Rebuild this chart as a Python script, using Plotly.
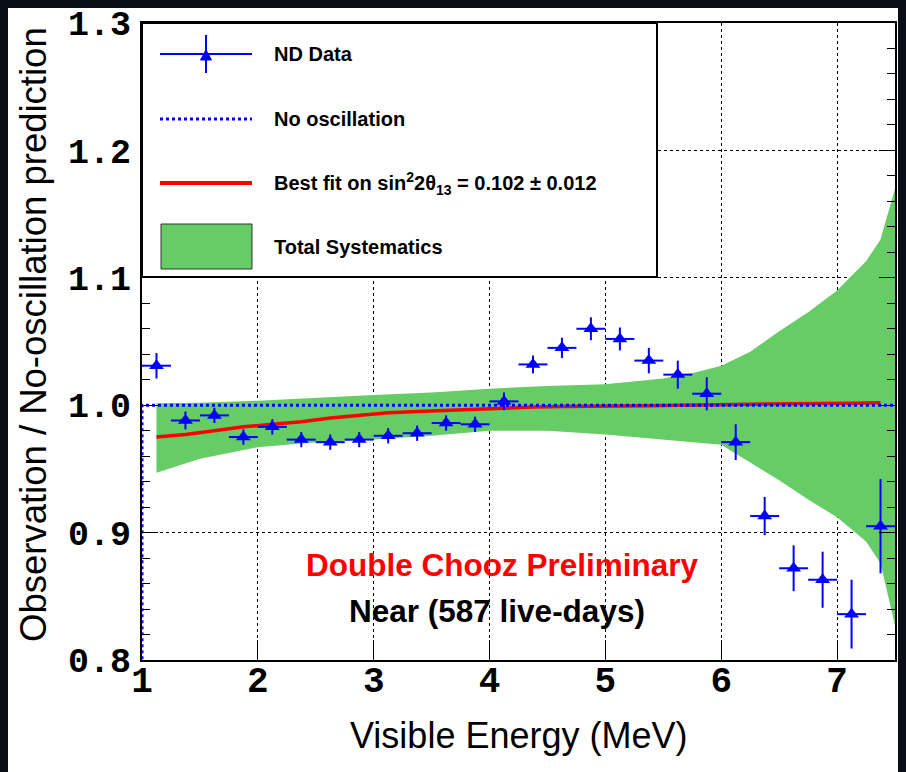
import plotly.graph_objects as go

# ---------------- data ----------------
energy = [1.125, 1.375, 1.625, 1.875, 2.125, 2.375, 2.625, 2.875, 3.125, 3.375,
          3.625, 3.875, 4.125, 4.375, 4.625, 4.875, 5.125, 5.375, 5.625, 5.875,
          6.125, 6.375, 6.625, 6.875, 7.125, 7.375]
ratio = [1.031, 0.988, 0.992, 0.975, 0.983, 0.973, 0.971, 0.973, 0.976, 0.978,
         0.986, 0.985, 1.003, 1.032, 1.045, 1.060, 1.052, 1.035, 1.024, 1.009,
         0.971, 0.913, 0.872, 0.863, 0.836, 0.905]
ratio_err = [0.010, 0.007, 0.006, 0.006, 0.006, 0.006, 0.006, 0.006, 0.006, 0.006,
             0.006, 0.006, 0.007, 0.007, 0.008, 0.009, 0.009, 0.010, 0.011, 0.013,
             0.014, 0.015, 0.018, 0.022, 0.027, 0.037]
bin_half_width = [0.125] * len(energy)

best_fit = [0.975, 0.977, 0.980, 0.983, 0.985, 0.987, 0.990, 0.992, 0.994, 0.995,
            0.996, 0.997, 0.998, 0.9985, 0.999, 0.999, 0.9995, 0.9995, 1.000, 1.000,
            1.0005, 1.001, 1.001, 1.001, 1.0015, 1.002]

syst_energy = [1.125, 1.5, 2.0, 2.5, 3.0, 3.5, 4.0, 4.5, 5.0, 5.5, 5.75, 6.0,
               6.25, 6.5, 6.75, 7.0, 7.25, 7.375, 7.5]
syst_upper = [1.0015, 1.002, 1.0035, 1.006, 1.008, 1.010, 1.013, 1.015, 1.0165, 1.021,
              1.025, 1.031, 1.042, 1.058, 1.073, 1.090, 1.113, 1.130, 1.170]
syst_lower = [0.947, 0.958, 0.967, 0.971, 0.973, 0.976, 0.980, 0.980, 0.977, 0.973,
              0.971, 0.969, 0.955, 0.941, 0.926, 0.912, 0.893, 0.876, 0.827]

noosc_energy = [1.0, 1.0, 7.5]
noosc_ratio = [0.0, 1.0, 1.0]

x_ticks = [1, 2, 3, 4, 5, 6, 7]
y_ticks = [0.8, 0.9, 1.0, 1.1, 1.2, 1.3]

# ---------------- layout geometry ----------------
# the page body has an 8 px margin, so the figure starts at (8, 8)
W, H = 898, 764
L, R, T, B = 134, 11, 15, 112
PW, PH = W - L - R, H - T - B
FRAME_LEFT_PAGE, FRAME_BOTTOM_PAGE = 142, 660

def px(x):  # page pixel -> paper
    return (x - FRAME_LEFT_PAGE) / PW

def py(y):  # page pixel -> paper
    return (FRAME_BOTTOM_PAGE - y) / PH

BLUE = "#0000ff"
RED = "#ff0000"
GREEN = "#66cc66"
TXT = "Liberation Sans, Arial, sans-serif"
MONO = "Liberation Mono, Courier New, monospace"

fig = go.Figure()

# systematics band
fig.add_trace(go.Scatter(x=syst_energy, y=syst_lower, mode="lines",
                         line=dict(width=0, color=GREEN), showlegend=False,
                         hoverinfo="skip"))
fig.add_trace(go.Scatter(x=syst_energy, y=syst_upper, mode="lines",
                         line=dict(width=0, color=GREEN), fill="tonexty",
                         fillcolor=GREEN, showlegend=False, hoverinfo="skip"))

# best fit
fig.add_trace(go.Scatter(x=energy, y=best_fit, mode="lines",
                         line=dict(color=RED, width=3.5), showlegend=False))

# no oscillation
fig.add_trace(go.Scatter(x=noosc_energy, y=noosc_ratio, mode="lines",
                         line=dict(color=BLUE, width=3, dash="dot"),
                         showlegend=False))

# data
fig.add_trace(go.Scatter(
    x=energy, y=ratio, mode="markers",
    marker=dict(symbol="triangle-up", size=13, color=BLUE),
    error_y=dict(type="data", array=ratio_err, color=BLUE, thickness=2, width=0),
    error_x=dict(type="data", array=bin_half_width, color=BLUE, thickness=2, width=0),
    showlegend=False))

shapes = []
# legend box
shapes.append(dict(type="rect", xref="paper", yref="paper",
                   x0=px(142), x1=px(657), y0=py(277), y1=py(23),
                   fillcolor="white", line=dict(color="black", width=2),
                   layer="above"))
# ND data symbol
shapes.append(dict(type="line", xref="paper", yref="paper",
                   x0=px(160), x1=px(252), y0=py(54), y1=py(54),
                   line=dict(color=BLUE, width=2), layer="above"))
shapes.append(dict(type="line", xref="paper", yref="paper",
                   x0=px(206), x1=px(206), y0=py(35), y1=py(73),
                   line=dict(color=BLUE, width=2), layer="above"))
tri = "M {:.5f} {:.5f} L {:.5f} {:.5f} L {:.5f} {:.5f} Z".format(
    px(206), py(50), px(200.5), py(60), px(211.5), py(60))
shapes.append(dict(type="path", xref="paper", yref="paper", path=tri,
                   fillcolor=BLUE, line=dict(color=BLUE, width=1), layer="above"))
# no oscillation symbol
shapes.append(dict(type="line", xref="paper", yref="paper",
                   x0=px(160), x1=px(252), y0=py(119), y1=py(119),
                   line=dict(color=BLUE, width=3, dash="dot"), layer="above"))
# best fit symbol
shapes.append(dict(type="line", xref="paper", yref="paper",
                   x0=px(160), x1=px(252), y0=py(183), y1=py(183),
                   line=dict(color=RED, width=4), layer="above"))
# systematics symbol
shapes.append(dict(type="rect", xref="paper", yref="paper",
                   x0=px(161), x1=px(252), y0=py(269), y1=py(224),
                   fillcolor=GREEN, line=dict(color="#333333", width=1),
                   layer="above"))

annotations = []
leg_font = dict(family=TXT, size=20, color="black", weight="bold")
for label, yy in [("ND Data", 54), ("No oscillation", 119),
                  ("Best fit on sin<sup>2</sup>2θ<sub>13</sub> = 0.102 ± 0.012", 183),
                  ("Total Systematics", 247)]:
    annotations.append(dict(xref="paper", yref="paper", x=px(272), y=py(yy),
                            text=label, showarrow=False, xanchor="left",
                            yanchor="middle", font=leg_font))

annotations.append(dict(xref="paper", yref="paper", x=px(502), y=py(565),
                        text="Double Chooz Preliminary", showarrow=False,
                        xanchor="center", yanchor="middle",
                        font=dict(family=TXT, size=31.5, color=RED, weight="bold")))
annotations.append(dict(xref="paper", yref="paper", x=px(497), y=py(611),
                        text="Near (587 live-days)", showarrow=False,
                        xanchor="center", yanchor="middle",
                        font=dict(family=TXT, size=31.5, color="black", weight="bold")))

# axis titles
annotations.append(dict(xref="paper", yref="paper", x=px(518), y=py(735),
                        text="Visible Energy (MeV)", showarrow=False,
                        xanchor="center", yanchor="middle",
                        font=dict(family=TXT, size=36, color="black")))
annotations.append(dict(xref="paper", yref="paper", x=px(33), y=py(335),
                        text="Observation / No-oscillation prediction",
                        showarrow=False, textangle=-90,
                        xanchor="center", yanchor="middle",
                        font=dict(family=TXT, size=36.5, color="black")))

fig.update_layout(
    width=W, height=H,
    margin=dict(l=L, r=R, t=T, b=B, pad=0, autoexpand=False),
    paper_bgcolor="white", plot_bgcolor="white",
    showlegend=False,
    shapes=shapes, annotations=annotations,
    xaxis=dict(range=[1, 7.5], tickvals=x_ticks, ticks="inside", ticklen=20,
               tickwidth=1, tickcolor="black", showgrid=True, gridcolor="black",
               griddash="dot", gridwidth=1, showline=True, linewidth=2,
               linecolor="black", mirror=True, zeroline=False, automargin=False,
               tickfont=dict(family=MONO, size=36, color="black", weight="bold"),
               ticklabelstandoff=-13, ticklabeloverflow="allow"),
    yaxis=dict(range=[0.8, 1.3], tickvals=y_ticks, tickformat=".1f",
               ticks="inside", ticklen=16, tickwidth=1, tickcolor="black",
               minor=dict(dtick=0.02, ticklen=8, ticks="inside",
                          tickcolor="black", tickwidth=1, showgrid=False),
               showgrid=True, gridcolor="black", griddash="dot", gridwidth=1,
               showline=True, linewidth=2, linecolor="black", mirror="allticks",
               zeroline=False, automargin=False,
               tickfont=dict(family=MONO, size=35, color="black", weight="bold"),
               ticklabelstandoff=2, ticklabeloverflow="allow"),
)

fig.write_html("out.html",
               post_script="document.body.style.background='#0a0e16';")
